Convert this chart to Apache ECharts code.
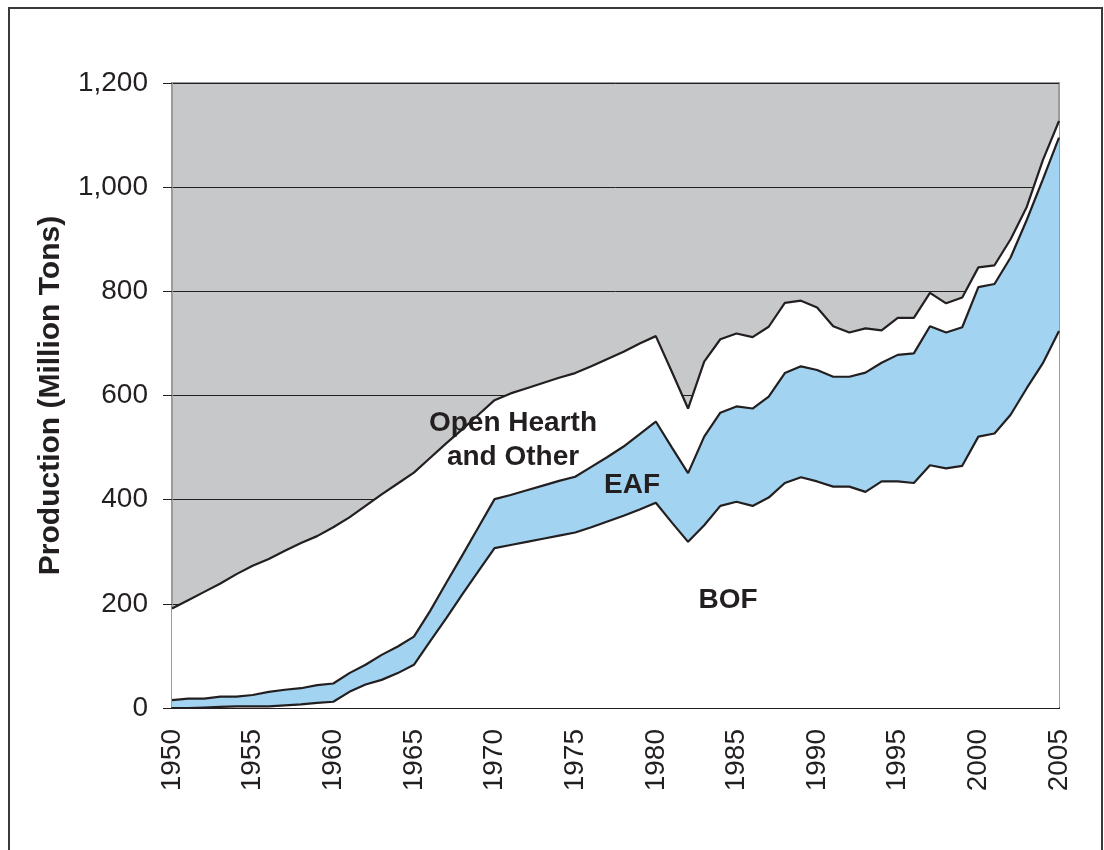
<!DOCTYPE html>
<html>
<head>
<meta charset="utf-8">
<script src="https://cdn.jsdelivr.net/npm/echarts@6/dist/echarts.min.js"></script>
<style>
  html, body { margin: 0; padding: 0; background: #fff; }
  #chart { width: 1104px; height: 850px; }
</style>
</head>
<body>
<div id="chart"></div>
<script>
// years on the category axis
const years = ["1950","1951","1952","1953","1954","1955","1956","1957","1958","1959",
    "1960","1961","1962","1963","1964","1965","1966","1967","1968","1969",
    "1970","1971","1972","1973","1974","1975","1976","1977","1978","1979",
    "1980","1981","1982","1983","1984","1985","1986","1987","1988","1989",
    "1990","1991","1992","1993","1994","1995","1996","1997","1998","1999",
    "2000","2001","2002","2003","2004","2005"];

// production by process, million tons (stacked bottom to top)
const bof = [0,0,1,2,3,3,3,5,7,10,
    12,31,45,54,67,83,128,172,218,263,
    307,313,319,325,331,337,347,358,369,381,
    394,356,319,351,388,396,388,404,432,443,
    435,425,425,415,435,435,432,466,460,465,
    521,527,563,614,662,724];
const eaf = [15,18,17,20,19,22,28,30,31,34,
    35,36,38,48,51,54,58,68,75,84,
    94,96,99,102,105,107,116,124,133,145,
    156,144,132,170,179,183,187,194,211,213,
    214,211,211,229,228,243,249,267,261,266,
    287,287,302,323,353,371];
const other = [176,189,205,217,235,248,255,267,279,286,
    300,299,305,308,313,315,294,268,242,216,
    190,195,196,197,198,199,193,188,182,174,
    164,145,124,144,141,140,137,134,135,126,
    120,97,85,85,62,71,68,64,56,57,
    38,36,35,25,37,32];

const yTicks = [0, 200, 400, 600, 800, 1000, 1200];

const ink = '#231f20';
const font = 'Liberation Sans';

function addCommas(v) {
    return String(v).replace(/\B(?=(\d{3})+(?!\d))/g, ',');
}

function makeSeries(name, values, fill) {
    return {
        name: name,
        type: 'line',
        stack: 'total',
        data: values,
        symbol: 'none',
        lineStyle: { color: ink, width: 2.2 },
        areaStyle: { color: fill, opacity: 1 },
        emphasis: { disabled: true }
    };
}

function label(text, x, y) {
    return {
        type: 'text',
        z: 100,
        silent: true,
        style: {
            text: text, x: x, y: y,
            textAlign: 'center', textVerticalAlign: 'middle',
            font: 'bold 28px "Liberation Sans"',
            fill: ink, lineHeight: 34
        }
    };
}

const chart = echarts.init(document.getElementById('chart'));
const option = {
    animation: false,
    backgroundColor: '#fff',
    grid: {
        left: 172, right: 45, top: 83, bottom: 142,
        show: true,
        backgroundColor: '#c7c8ca',
        borderColor: '#9b9b9b',
        borderWidth: 2
    },
    xAxis: {
        type: 'category',
        data: years,
        boundaryGap: false,
        axisLine: { lineStyle: { color: ink, width: 2 } },
        axisTick: { show: false },
        axisLabel: {
            interval: 4,
            rotate: 90,
            margin: 21,
            fontFamily: font,
            fontSize: 28,
            color: ink
        },
        splitLine: { show: false }
    },
    yAxis: {
        type: 'value',
        min: yTicks[0],
        max: yTicks[yTicks.length - 1],
        interval: 200,
        name: 'Production (Million Tons)',
        nameLocation: 'middle',
        nameGap: 106,
        nameTextStyle: { fontFamily: font, fontSize: 30, fontWeight: 'bold', color: ink },
        axisLine: { show: true, lineStyle: { color: '#9b9b9b', width: 2 } },
        axisTick: { show: true, length: 9, lineStyle: { color: ink, width: 1 } },
        axisLabel: {
            margin: 24,
            fontFamily: font,
            fontSize: 28,
            color: ink,
            formatter: addCommas
        },
        splitLine: { show: true, lineStyle: { color: ink, width: 1 } }
    },
    graphic: [
        {
            type: 'rect',
            silent: true,
            shape: { x: 9, y: 8, width: 1093, height: 900 },
            style: { fill: 'none', stroke: '#3a3a3a', lineWidth: 2 }
        },
        label('Open Hearth\nand Other', 513, 440),
        label('EAF', 632, 485),
        label('BOF', 728, 600)
    ],
    series: [
        makeSeries('BOF', bof, '#ffffff'),
        makeSeries('EAF', eaf, '#a2d3f1'),
        makeSeries('Open Hearth and Other', other, '#ffffff')
    ]
};
chart.setOption(option);
</script>
</body>
</html>
